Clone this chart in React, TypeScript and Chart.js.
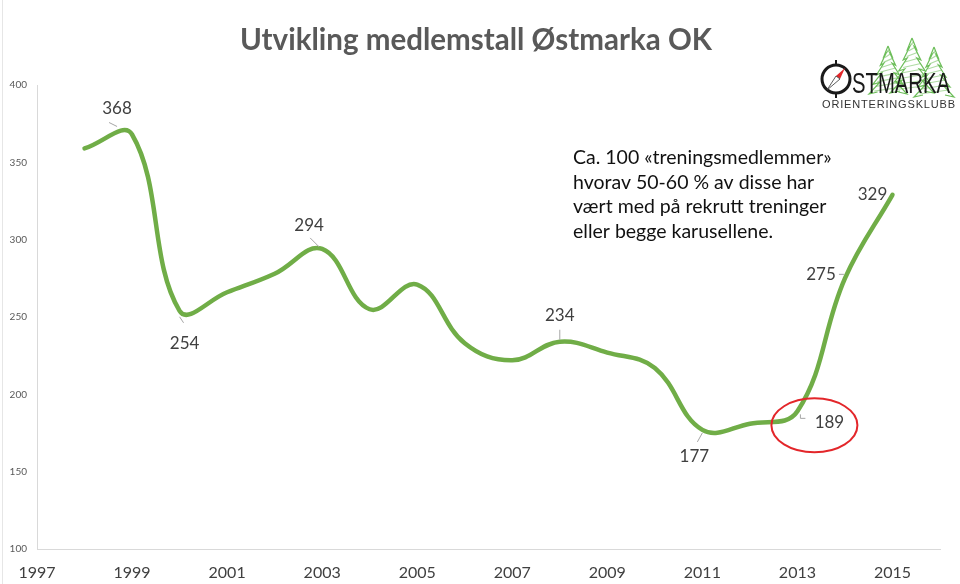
import React, { useEffect, useRef } from 'react';
import { Chart, registerables } from 'chart.js';

Chart.register(...registerables);

// ---- data ----
const years = [1998, 1999, 2000, 2001, 2002, 2003, 2004, 2005, 2006, 2007, 2008, 2009, 2010, 2011, 2012, 2013, 2014, 2015];
const members = [359, 368, 254, 266, 278, 294, 255, 271, 233, 222, 234, 227, 217, 177, 181, 189, 275, 329];
const labelledYears = [1999, 2000, 2003, 2008, 2011, 2013, 2014, 2015];
const xTickYears = [1997, 1999, 2001, 2003, 2005, 2007, 2009, 2011, 2013, 2015];
const yTickValues = [100, 150, 200, 250, 300, 350, 400];
const titleText = 'Utvikling medlemstall Østmarka OK';
const noteLines = [
  'Ca. 100 «treningsmedlemmer»',
  'hvorav 50-60 % av disse har',
  'vært med på rekrutt treninger',
  'eller begge karusellene.',
];
const highlightedYear = 2013;
const logoName = 'STMARKA';
const logoSub = 'ORIENTERINGSKLUBB';

// ---- label styling (offsets relative to the point, in px) ----
const LABEL_STYLE: Record<number, { dx: number; dy: number; leader: number[][] }> = {
  1999: { dx: -15, dy: -26, leader: [[-23, -12], [-15, -8]] },
  2000: { dx: 5, dy: 33, leader: [[4, 12], [0, 6]] },
  2003: { dx: -13, dy: -23, leader: [[-12, -11], [-3, -2]] },
  2008: { dx: 0, dy: -26, leader: [[0, -12], [0, -2]] },
  2011: { dx: -8, dy: 27, leader: [[-5, 12], [0, 3]] },
  2013: { dx: 32, dy: 11, leader: [[3, 3], [3, 7], [8, 7]] },
  2014: { dx: -24, dy: -4, leader: [[-6, -4], [-1, -4]] },
  2015: { dx: -20, dy: 0, leader: [] },
};

const FONT = 'Lato, "Open Sans", sans-serif';

const decorPlugin = {
  id: 'decor',
  beforeDraw(chart: any) {
    const ctx = chart.ctx;
    ctx.save();
    ctx.fillStyle = '#ffffff';
    ctx.fillRect(0, 0, chart.width, chart.height);
    ctx.strokeStyle = '#E6E6E6';
    ctx.lineWidth = 1;
    ctx.beginPath();
    ctx.moveTo(2.5, 0);
    ctx.lineTo(2.5, chart.height);
    ctx.stroke();
    ctx.restore();
  },
  afterDatasetsDraw(chart: any) {
    const ctx = chart.ctx;
    const meta = chart.getDatasetMeta(0);
    ctx.save();
    labelledYears.forEach((yr) => {
      const i = years.indexOf(yr);
      const p = meta.data[i];
      const st = LABEL_STYLE[yr];
      if (!p || !st) return;
      if (st.leader.length) {
        ctx.strokeStyle = '#A6A6A6';
        ctx.lineWidth = 1;
        ctx.beginPath();
        st.leader.forEach((pt, k) => {
          const x = p.x + pt[0];
          const y = p.y + pt[1];
          if (k === 0) ctx.moveTo(x, y);
          else ctx.lineTo(x, y);
        });
        ctx.stroke();
      }
      ctx.fillStyle = '#404040';
      ctx.font = `17px ${FONT}`;
      ctx.textAlign = 'center';
      ctx.textBaseline = 'middle';
      ctx.fillText(String(members[i]), p.x + st.dx, p.y + st.dy);
    });
    const hi = meta.data[years.indexOf(highlightedYear)];
    if (hi) {
      ctx.strokeStyle = '#E3262A';
      ctx.lineWidth = 2;
      ctx.beginPath();
      ctx.ellipse(hi.x + 17, hi.y + 14, 43, 27, 0, 0, Math.PI * 2);
      ctx.stroke();
    }
    ctx.restore();
  },
  afterDraw(chart: any) {
    const ctx = chart.ctx;
    ctx.save();
    // title
    ctx.fillStyle = '#595959';
    ctx.font = `bold 31px ${FONT}`;
    ctx.textAlign = 'center';
    ctx.textBaseline = 'alphabetic';
    ctx.fillText(titleText, 476, 50, 472);

    // note text
    ctx.fillStyle = '#111111';
    ctx.font = `19.5px ${FONT}`;
    ctx.textAlign = 'left';
    ctx.textBaseline = 'middle';
    noteLines.forEach((ln, k) => ctx.fillText(ln, 573, 158 + k * 24.5));

    // logo: trees
    const tree = (cx: number, top: number, w: number, h: number) => {
      ctx.strokeStyle = '#6DBE5A';
      ctx.lineWidth = 1.2;
      ctx.beginPath();
      const tiers = 5;
      ctx.moveTo(cx, top);
      for (let t = 1; t <= tiers; t++) {
        const yy = top + (h * t) / tiers;
        const half = (w / 2) * (t / tiers);
        ctx.lineTo(cx + half, yy);
        ctx.lineTo(cx + half * 0.55, yy - 2);
      }
      ctx.moveTo(cx, top);
      for (let t = 1; t <= tiers; t++) {
        const yy = top + (h * t) / tiers;
        const half = (w / 2) * (t / tiers);
        ctx.lineTo(cx - half, yy);
        ctx.lineTo(cx - half * 0.55, yy - 2);
      }
      ctx.stroke();
      ctx.strokeStyle = 'rgba(109,190,90,0.55)';
      ctx.beginPath();
      for (let t = 1; t < tiers * 2; t++) {
        const yy = top + (h * t) / (tiers * 2);
        const half = (w / 2) * (t / (tiers * 2)) * 0.8;
        ctx.moveTo(cx - half, yy + 2);
        ctx.lineTo(cx + half, yy - 2);
      }
      ctx.stroke();
    };
    tree(888, 46, 38, 48);
    tree(934, 47, 40, 50);
    tree(912, 38, 44, 55);

    // logo: Ø compass ring
    ctx.strokeStyle = '#1a1a1a';
    ctx.lineWidth = 3;
    ctx.beginPath();
    ctx.arc(836, 79, 14, 0, Math.PI * 2);
    ctx.stroke();
    ctx.lineWidth = 2;
    ctx.beginPath();
    ctx.moveTo(836, 60);
    ctx.lineTo(836, 65);
    ctx.moveTo(836, 93);
    ctx.lineTo(836, 98);
    ctx.stroke();
    ctx.fillStyle = '#E3262A';
    ctx.beginPath();
    ctx.moveTo(845, 68);
    ctx.lineTo(840, 79);
    ctx.lineTo(836, 76);
    ctx.closePath();
    ctx.fill();
    ctx.fillStyle = '#ffffff';
    ctx.strokeStyle = '#333';
    ctx.lineWidth = 0.8;
    ctx.beginPath();
    ctx.moveTo(827, 90);
    ctx.lineTo(840, 79);
    ctx.lineTo(836, 76);
    ctx.closePath();
    ctx.fill();
    ctx.stroke();

    // logo text
    ctx.fillStyle = '#1a1a1a';
    ctx.font = `30px "Liberation Sans", Arial, sans-serif`;
    ctx.textAlign = 'left';
    ctx.textBaseline = 'alphabetic';
    ctx.fillText(logoName, 852, 93, 98);
    ctx.font = `11px "Liberation Sans", Arial, sans-serif`;
    ctx.fillStyle = '#333333';
    let plain = 0;
    for (let k = 0; k < logoSub.length; k++) plain += ctx.measureText(logoSub[k]).width;
    const gap = (955 - 822 - plain) / (logoSub.length - 1);
    let cx = 822;
    for (let k = 0; k < logoSub.length; k++) {
      ctx.fillText(logoSub[k], cx, 108);
      cx += ctx.measureText(logoSub[k]).width + gap;
    }
    ctx.restore();
  },
};

export default function App() {
  const ref = useRef<HTMLCanvasElement | null>(null);
  useEffect(() => {
    if (!ref.current) return;
    const chart = new Chart(ref.current, {
      type: 'line',
      data: {
        datasets: [
          {
            data: years.map((y, i) => ({ x: y, y: members[i] })),
            borderColor: '#70AD47',
            borderWidth: 4.5,
            tension: 0.4,
            pointRadius: 0,
            fill: false,
            borderCapStyle: 'round',
          },
        ],
      },
      options: {
        animation: false,
        responsive: false,
        events: [],
        layout: { padding: { top: 85, right: 20, left: 0, bottom: 0 } },
        plugins: { legend: { display: false }, tooltip: { enabled: false }, title: { display: false } },
        scales: {
          x: {
            type: 'linear',
            min: 1997,
            max: 2016,
            afterBuildTicks: (ax: any) => {
              ax.ticks = xTickYears.map((v) => ({ value: v }));
            },
            afterFit: (ax: any) => {
              ax.height = 35;
            },
            grid: { display: false, drawTicks: false },
            border: { display: true, color: '#D9D9D9', width: 1 },
            ticks: {
              font: { family: FONT, size: 16 },
              color: '#404040',
              padding: 14,
              maxRotation: 0,
              autoSkip: false,
              callback: (v: any) => String(v),
            },
          },
          y: {
            type: 'linear',
            min: 100,
            max: 400,
            afterBuildTicks: (ax: any) => {
              ax.ticks = yTickValues.map((v) => ({ value: v }));
            },
            afterFit: (ax: any) => {
              ax.width = 37;
            },
            grid: { display: false, drawTicks: false },
            border: { display: true, color: '#D9D9D9', width: 1 },
            ticks: {
              font: { family: FONT, size: 10 },
              color: '#595959',
              padding: 10,
              callback: (v: any) => String(v),
            },
          },
        },
      },
      plugins: [decorPlugin],
    });
    return () => chart.destroy();
  }, []);
  return (
    <canvas
      ref={ref}
      width={960}
      height={584}
      style={{ position: 'absolute', left: 0, top: 0, width: 960, height: 584 }}
    />
  );
}
